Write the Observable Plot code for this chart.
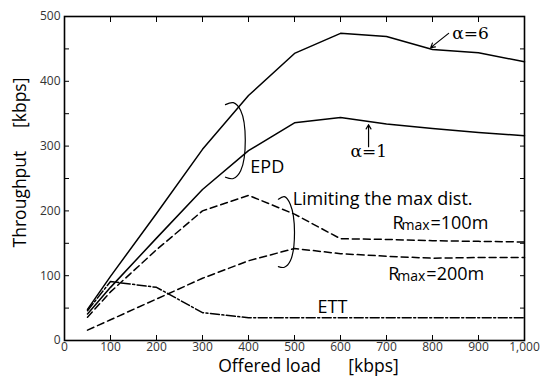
<!DOCTYPE html>
<html><head><meta charset="utf-8">
<script src="https://cdn.jsdelivr.net/npm/d3@7"></script>
<script src="https://cdn.jsdelivr.net/npm/@observablehq/plot@0.6"></script>
<style>body{margin:0;background:#fff}</style>
</head><body><div id="chart"></div>
<script>
const offeredLoad = [50,100,200,300,400,500,600,700,800,900,1000];
const epdAlpha6 = [48,99,196,295,378,443,474,469,449,444,430];
const epdAlpha1 = [41,82,158,233,293,336,344,334,327,321,316];
const rmax100 = [36,75,140,200,224,195,157,156,154,153,152];
const rmax200 = [16,32,64,96,123,142,134,130,127,128,128];
const ett = [46,91,82,43,35,35,35,35,35,35,35];
const xTicks = [0,100,200,300,400,500,600,700,800,900,1000];
const yTicks = [0,100,200,300,400,500];
const yMinorTicks = [0,50,100,150,200,250,300,350,400,450,500];

const rows = ys => offeredLoad.map((x,i)=>({x, y: ys[i]}));
const fmt = d3.format(",");
const font = "'Open Sans', sans-serif";
const none = () => "";
const sp = n => "\u00a0".repeat(n);

const plot = Plot.plot({
  width:548, height:381, marginLeft:64, marginRight:24, marginTop:16, marginBottom:41,
  style:{fontFamily:font, background:"#fff", color:"#000"},
  x:{domain:[0,1000]}, y:{domain:[0,500]},
  marks:[
    Plot.axisX(xTicks,{tickSize:0, tickPadding:2, tickFormat:fmt, fontSize:12, fill:"#333", label:null}),
    Plot.axisX(xTicks,{tickSize:-5, tickFormat:none, label:null}),
    Plot.axisX(xTicks,{anchor:"top", tickSize:-5, tickFormat:none, label:null}),
    Plot.axisY(yTicks,{tickSize:0, tickPadding:4, fontSize:12, fill:"#333", label:null}),
    Plot.axisY(yMinorTicks,{tickSize:-5, tickFormat:none, label:null}),
    Plot.axisY(yMinorTicks,{anchor:"right", tickSize:-5, tickFormat:none, label:null}),
    Plot.frame({stroke:"#000", strokeWidth:1.6}),
    Plot.line(rows(epdAlpha6),{x:"x", y:"y", stroke:"#000", strokeWidth:1.5}),
    Plot.line(rows(epdAlpha1),{x:"x", y:"y", stroke:"#000", strokeWidth:1.5}),
    Plot.line(rows(rmax100),{x:"x", y:"y", stroke:"#000", strokeWidth:1.5, strokeDasharray:"7,4"}),
    Plot.line(rows(rmax200),{x:"x", y:"y", stroke:"#000", strokeWidth:1.5, strokeDasharray:"7,4"}),
    Plot.line(rows(ett),{x:"x", y:"y", stroke:"#000", strokeWidth:1.5, strokeDasharray:"9,2.5,2,2.5"}),
    // brackets
    Plot.line([{x:350,y:364},{x:367,y:367},{x:383,y:355},{x:393,y:309},{x:383,y:262},{x:367,y:250},{x:350,y:252}],
      {x:"x", y:"y", curve:"catmull-rom", stroke:"#000", strokeWidth:1.2}),
    Plot.line([{x:465,y:218},{x:478,y:222},{x:491,y:210},{x:500,y:167},{x:491,y:123},{x:478,y:113},{x:465,y:114}],
      {x:"x", y:"y", curve:"catmull-rom", stroke:"#000", strokeWidth:1.2}),
    // arrows
    Plot.arrow([{x1:835,y1:474,x2:796,y2:452}],{x1:"x1",y1:"y1",x2:"x2",y2:"y2", stroke:"#000", strokeWidth:1.2, headLength:6}),
    Plot.arrow([{x1:661,y1:299,x2:661,y2:333}],{x1:"x1",y1:"y1",x2:"x2",y2:"y2", stroke:"#000", strokeWidth:1.2, headLength:6}),
    // labels
    Plot.text(["α=6"],{x:()=>843, y:()=>474, textAnchor:"start", fontSize:17, fontFamily:"'DejaVu Serif', serif"}),
    Plot.text(["α=1"],{x:()=>622, y:()=>292, textAnchor:"start", fontSize:17, fontFamily:"'DejaVu Serif', serif"}),
    Plot.text(["EPD"],{x:()=>404, y:()=>267, textAnchor:"start", fontSize:18}),
    Plot.text(["Limiting the max dist."],{x:()=>496, y:()=>218, textAnchor:"start", fontSize:18}),
    Plot.text(["R"],{x:()=>713, y:()=>181, textAnchor:"start", fontSize:18}),
    Plot.text(["max"],{x:()=>713, y:()=>181, dx:9, dy:2, textAnchor:"start", fontSize:14}),
    Plot.text(["=100m"],{x:()=>713, y:()=>181, dx:38, textAnchor:"start", fontSize:18}),
    Plot.text(["R"],{x:()=>704, y:()=>102, textAnchor:"start", fontSize:18}),
    Plot.text(["max"],{x:()=>704, y:()=>102, dx:9, dy:2, textAnchor:"start", fontSize:14}),
    Plot.text(["=200m"],{x:()=>704, y:()=>102, dx:38, textAnchor:"start", fontSize:18}),
    Plot.text(["ETT"],{x:()=>550, y:()=>51, textAnchor:"start", fontSize:18}),
    // axis titles
    Plot.text(["Offered load" + sp(6) + "[kbps]"],{frameAnchor:"bottom", lineAnchor:"middle", textAnchor:"middle", dy:26, dx:14, fontSize:17.5}),
    Plot.text(["Throughput" + sp(5) + "[kbps]"],{frameAnchor:"left", lineAnchor:"middle", textAnchor:"middle", dx:-44, dy:-16, rotate:-90, fontSize:17.5})
  ]
});
document.getElementById("chart").appendChild(plot);
</script>
</body></html>
